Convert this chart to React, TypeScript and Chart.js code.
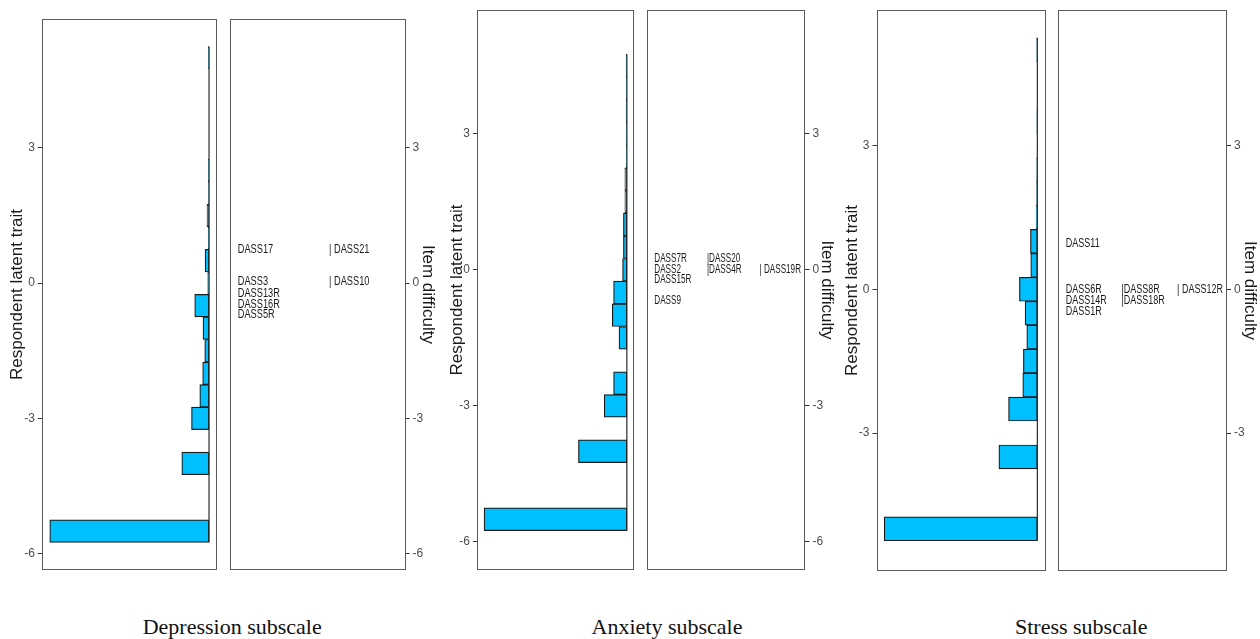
import React, { useEffect, useRef } from 'react';
import { Chart, registerables } from 'chart.js';

Chart.register(...registerables);

// ---------- DATA ----------
// Respondent histograms (bin centres, bin width 0.5 logits; relative counts)
const depressionBins = [-5.5, -5.0, -4.5, -4.0, -3.5, -3.0, -2.5, -2.0, -1.5, -1.0, -0.5, 0.0, 0.5, 1.0, 1.5, 2.0, 2.5, 3.0, 3.5, 4.0, 4.5, 5.0];
const depressionCounts = [1000, 0, 0, 171, 0, 110, 58, 40, 27, 38, 90, 8, 25, 5, 13, 3, 4, 0, 0, 0, 0, 4];

const anxietyBins = [-5.5, -5.0, -4.5, -4.0, -3.5, -3.0, -2.5, -2.0, -1.5, -1.0, -0.5, 0.0, 0.5, 1.0, 1.5, 2.0, 2.5, 3.0, 3.5, 4.0, 4.5];
const anxietyCounts = [1000, 0, 0, 339, 0, 159, 93, 0, 55, 102, 93, 30, 24, 24, 14, 14, 3, 3, 5, 3, 5];

const stressBins = [-5.0, -4.5, -4.0, -3.5, -3.0, -2.5, -2.0, -1.5, -1.0, -0.5, 0.0, 0.5, 1.0, 1.5, 2.0, 2.5, 3.0, 3.5, 4.0, 4.5, 5.0];
const stressCounts = [1000, 0, 0, 251, 0, 188, 95, 91, 69, 80, 117, 43, 45, 8, 5, 4, 0, 3, 0, 0, 4];

const binWidth = 0.5;

// Item difficulty labels
const depressionItems = ['DASS17', '| DASS21', 'DASS3', '| DASS10', 'DASS13R', 'DASS16R', 'DASS5R'];
const depressionDifficulty = [0.75, 0.75, 0.03, 0.03, -0.23, -0.47, -0.69];
const depressionColumn = [0, 1, 0, 1, 0, 0, 0];

const anxietyItems = ['DASS7R', '|DASS20', 'DASS2', '|DASS4R', '| DASS19R', 'DASS15R', 'DASS9'];
const anxietyDifficulty = [0.26, 0.26, 0.015, 0.015, 0.015, -0.22, -0.68];
const anxietyColumn = [0, 1, 0, 1, 2, 0, 0];

const stressItems = ['DASS11', 'DASS6R', '|DASS8R', '| DASS12R', 'DASS14R', '|DASS18R', 'DASS1R'];
const stressDifficulty = [0.96, -0.015, -0.015, -0.015, -0.245, -0.245, -0.47];
const stressColumn = [0, 0, 1, 2, 0, 1, 0];

// Axis
const yTickValues = [-6, -3, 0, 3];
const depressionRange = [-6.364, 5.86];
const anxietyRange = [-6.618, 5.729];
const stressRange = [-5.881, 5.831];

const subscaleTitles = ['Depression subscale', 'Anxiety subscale', 'Stress subscale'];
const leftAxisTitle = 'Respondent latent trait';
const rightAxisTitle = 'Item difficulty';

// ---------- LAYOUT / STYLE ----------
const SANS = '"Liberation Sans", Arial, Helvetica, sans-serif';
const SERIF = '"Liberation Serif", "Times New Roman", Times, serif';
const PAD_V = 12;

type PanelLayout = {
  boxTop: number; boxBottom: number;
  leftBoxL: number; leftBoxR: number; leftTitleX: number;
  rightBoxL: number; rightBoxR: number; rightTitleX: number;
  colRange: [number, number];
  labelSize: number; labelSqueeze: number;
  captionX: number;
};

const layouts: PanelLayout[] = [
  { boxTop: 18.7, boxBottom: 570, leftBoxL: 41.3, leftBoxR: 216.7, leftTitleX: 16.7, rightBoxL: 230.3, rightBoxR: 405.7, rightTitleX: 428, colRange: [-0.0846, 1.838], labelSize: 12, labelSqueeze: 0.77, captionX: 232.2 },
  { boxTop: 10.3, boxBottom: 570, leftBoxL: 476.7, leftBoxR: 634.3, leftTitleX: 457, rightBoxL: 647.3, rightBoxR: 805.3, rightTitleX: 826.7, colRange: [-0.139, 2.87], labelSize: 12.5, labelSqueeze: 0.65, captionX: 667 },
  { boxTop: 10, boxBottom: 571, leftBoxL: 876, leftBoxR: 1044.7, leftTitleX: 851.7, rightBoxL: 1058, rightBoxR: 1227, rightTitleX: 1249.7, colRange: [-0.14, 2.9], labelSize: 12.5, labelSqueeze: 0.72, captionX: 1081.3 },
];

const panelData = [
  { bins: depressionBins, counts: depressionCounts, items: depressionItems, diff: depressionDifficulty, cols: depressionColumn, range: depressionRange },
  { bins: anxietyBins, counts: anxietyCounts, items: anxietyItems, diff: anxietyDifficulty, cols: anxietyColumn, range: anxietyRange },
  { bins: stressBins, counts: stressCounts, items: stressItems, diff: stressDifficulty, cols: stressColumn, range: stressRange },
];

const TITLE_SIZE = 17;
const TITLE_HALF = (TITLE_SIZE * 1.2) / 2;

const boxPlugin = {
  id: 'panelBox',
  afterDraw(chart: any) {
    const { ctx, chartArea } = chart;
    ctx.save();
    ctx.strokeStyle = '#5a5a5a';
    ctx.lineWidth = 1;
    ctx.strokeRect(Math.round(chartArea.left) + 0.5, Math.round(chartArea.top) + 0.5,
      Math.round(chartArea.right - chartArea.left) - 1, Math.round(chartArea.bottom - chartArea.top) - 1);
    ctx.restore();
  },
};

function yAxis(range: number[], position: 'left' | 'right', width: number, title: string) {
  return {
    type: 'linear' as const,
    position,
    min: range[0],
    max: range[1],
    offset: false,
    afterBuildTicks: (s: any) => {
      s.ticks = yTickValues.filter((v) => v >= range[0] && v <= range[1]).map((v) => ({ value: v }));
    },
    afterFit: (s: any) => { s.width = width; },
    ticks: { color: '#4d4d4d', font: { family: SANS, size: 12 }, padding: 3, callback: (v: any) => String(v) },
    grid: { display: true, offset: false, drawOnChartArea: false, drawTicks: true, tickLength: 4, tickColor: '#333333', tickWidth: 1 },
    border: { display: false },
    title: { display: true, text: title, color: '#1a1a1a', font: { family: SANS, size: TITLE_SIZE }, padding: 0 },
  };
}

function PersonChart({ idx }: { idx: number }) {
  const ref = useRef<HTMLCanvasElement>(null);
  const L = layouts[idx];
  const D = panelData[idx];
  const left = L.leftTitleX - TITLE_HALF;
  const axisW = L.leftBoxL - left;
  const width = Math.round(L.leftBoxR - left + 1);
  const top = L.boxTop - PAD_V;
  const height = Math.round(L.boxBottom - L.boxTop + 2 * PAD_V);
  useEffect(() => {
    if (!ref.current) return;
    const M = Math.max(...D.counts);
    const lo = Math.min(...D.bins) - binWidth / 2;
    const hi = Math.max(...D.bins) + binWidth / 2;
    const chart = new Chart(ref.current, {
      type: 'bar',
      data: {
        datasets: [
          {
            type: 'line',
            data: [{ x: 0, y: lo }, { x: 0, y: hi }],
            borderColor: '#2a2a2a',
            borderWidth: 1.2,
            pointRadius: 0,
            order: 0,
          } as any,
          {
            type: 'bar',
            data: D.bins.map((b, i) => ({ x: D.counts[i], y: b })),
            backgroundColor: '#00BFFF',
            borderColor: '#1a1a1a',
            borderWidth: 1.2,
            borderSkipped: false,
            barPercentage: 1,
            categoryPercentage: 1,
            order: 1,
          } as any,
        ],
      },
      options: {
        indexAxis: 'y',
        animation: false,
        responsive: false,
        events: [],
        layout: { padding: { top: PAD_V, bottom: PAD_V, left: 0, right: 1 } },
        plugins: { legend: { display: false }, tooltip: { enabled: false } },
        scales: {
          x: { type: 'linear', reverse: true, min: -0.05 * M, max: 1.05 * M, display: false, offset: false },
          y: yAxis(D.range, 'left', axisW, leftAxisTitle) as any,
        },
      },
      plugins: [boxPlugin],
    });
    return () => chart.destroy();
  }, []);
  return (
    <canvas ref={ref} width={width} height={height}
      style={{ position: 'absolute', left, top, width, height }} />
  );
}

function ItemChart({ idx }: { idx: number }) {
  const ref = useRef<HTMLCanvasElement>(null);
  const L = layouts[idx];
  const D = panelData[idx];
  const padL = 2;
  const left = L.rightBoxL - padL;
  const right = L.rightTitleX + TITLE_HALF;
  const axisW = right - L.rightBoxR;
  const width = Math.round(right - left);
  const top = L.boxTop - PAD_V;
  const height = Math.round(L.boxBottom - L.boxTop + 2 * PAD_V);
  useEffect(() => {
    if (!ref.current) return;
    const labelPlugin = {
      id: 'itemLabels',
      afterDatasetsDraw(chart: any) {
        const { ctx } = chart;
        const meta = chart.getDatasetMeta(0);
        ctx.save();
        ctx.fillStyle = '#1a1a1a';
        ctx.font = `${L.labelSize}px ${SANS}`;
        ctx.textAlign = 'left';
        ctx.textBaseline = 'middle';
        meta.data.forEach((el: any, i: number) => {
          ctx.save();
          ctx.translate(el.x, el.y);
          ctx.scale(L.labelSqueeze, 1);
          ctx.fillText(D.items[i], 0, 0);
          ctx.restore();
        });
        ctx.restore();
      },
    };
    const chart = new Chart(ref.current, {
      type: 'scatter',
      data: {
        datasets: [
          {
            data: D.items.map((_, i) => ({ x: D.cols[i], y: D.diff[i] })),
            pointRadius: 0,
            showLine: false,
          },
        ],
      },
      options: {
        animation: false,
        responsive: false,
        events: [],
        layout: { padding: { top: PAD_V, bottom: PAD_V, left: padL, right: 0 } },
        plugins: { legend: { display: false }, tooltip: { enabled: false } },
        scales: {
          x: { type: 'linear', min: L.colRange[0], max: L.colRange[1], display: false },
          y: yAxis(D.range, 'right', axisW, rightAxisTitle) as any,
        },
      },
      plugins: [boxPlugin, labelPlugin],
    });
    return () => chart.destroy();
  }, []);
  return (
    <canvas ref={ref} width={width} height={height}
      style={{ position: 'absolute', left, top, width, height }} />
  );
}

export default function App() {
  return (
    <div style={{ position: 'fixed', left: 0, top: 0, width: 1260, height: 639, background: '#ffffff', overflow: 'hidden' }}>
      {[0, 1, 2].map((i) => (
        <React.Fragment key={i}>
          <PersonChart idx={i} />
          <ItemChart idx={i} />
          <div style={{
            position: 'absolute', left: layouts[i].captionX, top: 615.9, transform: 'translateX(-50%)',
            fontFamily: SERIF, fontSize: 22, lineHeight: '22px', color: '#111', whiteSpace: 'nowrap',
          }}>{subscaleTitles[i]}</div>
        </React.Fragment>
      ))}
    </div>
  );
}
